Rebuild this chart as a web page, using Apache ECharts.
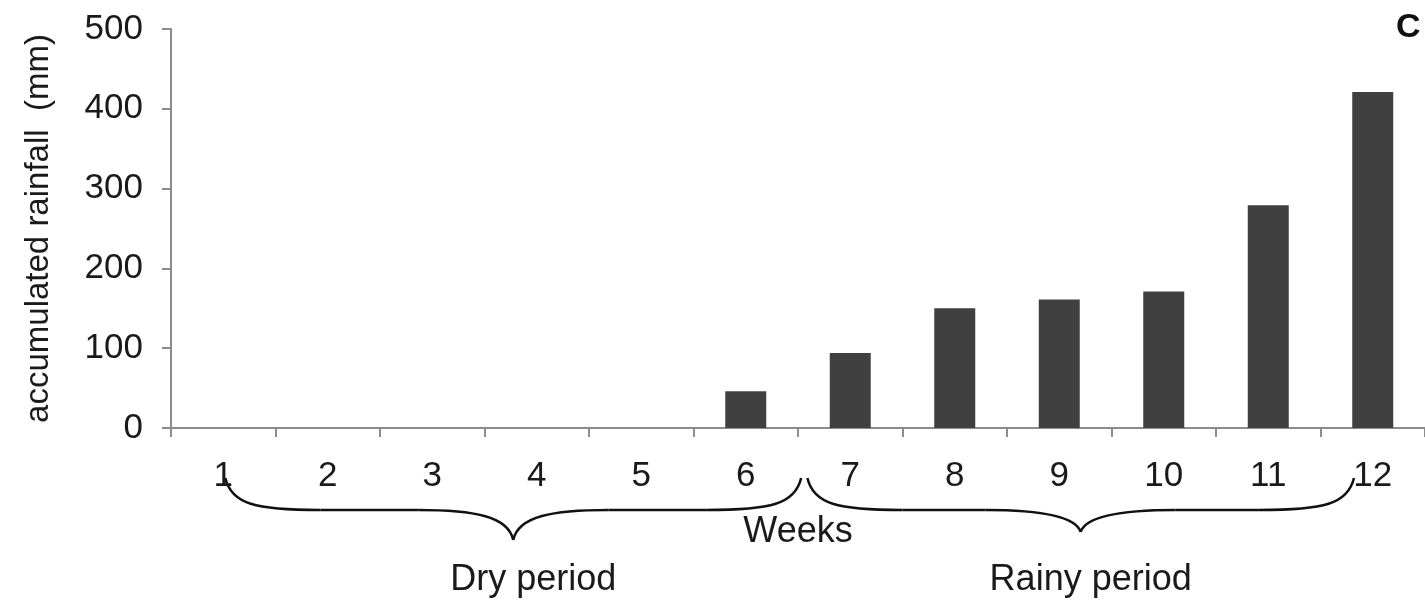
<!DOCTYPE html>
<html>
<head>
<meta charset="utf-8">
<script src="https://cdn.jsdelivr.net/npm/echarts@6/dist/echarts.min.js"></script>
<style>
  html, body { margin: 0; padding: 0; background: #fff; }
  #chart { width: 1425px; height: 606px; }
</style>
</head>
<body>
<div id="chart"></div>
<script>
// Weekly accumulated rainfall
const weeks = ['1', '2', '3', '4', '5', '6', '7', '8', '9', '10', '11', '12'];
const rainfall = [0, 0, 0, 0, 0, 46, 94, 150, 161, 171, 279, 421];
const yTicks = { min: 0, max: 500, interval: 100 };

// Period braces, spans given in category-index units
const periods = [
  { name: 'Dry period', from: 0.02, to: 5.53, depth: 112, shift: 20 },
  { name: 'Rainy period', from: 5.59, to: 10.82, depth: 104, shift: 10 }
];

const FONT = '"Liberation Sans", Arial, sans-serif';
const TEXT = '#1a1a1a';
const AXIS = '#8c8c8c';

const chart = echarts.init(document.getElementById('chart'), null, { renderer: 'canvas' });

chart.setOption({
  backgroundColor: '#fff',
  animation: false,
  grid: { left: 171, top: 29, width: 1260, height: 399, containLabel: false },
  xAxis: {
    type: 'category',
    data: weeks,
    boundaryGap: true,
    name: 'Weeks',
    nameLocation: 'middle',
    nameGap: 86,
    nameTextStyle: { fontFamily: FONT, fontSize: 36, color: TEXT },
    axisLine: { show: true, lineStyle: { color: AXIS, width: 2 } },
    axisTick: { show: true, alignWithLabel: false, length: 9, lineStyle: { color: AXIS, width: 2 } },
    axisLabel: { fontFamily: FONT, fontSize: 35, color: TEXT, margin: 31 },
    splitLine: { show: false }
  },
  yAxis: {
    type: 'value',
    min: yTicks.min,
    max: yTicks.max,
    interval: yTicks.interval,
    name: 'accumulated rainfall  (mm)',
    nameLocation: 'middle',
    nameGap: 116,
    nameRotate: 90,
    nameTextStyle: { fontFamily: FONT, fontSize: 33, color: TEXT },
    axisLine: { show: true, lineStyle: { color: AXIS, width: 2 } },
    axisTick: { show: true, length: 9, lineStyle: { color: AXIS, width: 2 } },
    axisLabel: { fontFamily: FONT, fontSize: 35, color: TEXT, margin: 28 },
    splitLine: { show: false }
  },
  series: [{
    type: 'bar',
    data: rainfall,
    barWidth: 41,
    itemStyle: { color: '#404040' }
  }]
});

// Curly braces and period captions beneath the week labels
function drawBraces() {
  const p0 = chart.convertToPixel({ xAxisIndex: 0 }, 0);
  const p1 = chart.convertToPixel({ xAxisIndex: 0 }, 1);
  const step = p1 - p0;
  const base = chart.convertToPixel({ yAxisIndex: 0 }, 0);
  const xAt = u => p0 + u * step;

  const yEnd = base + 50;
  const yMid = base + 82;
  const stroke = { fill: null, stroke: '#111', lineWidth: 2.5 };

  const curve = (x1, y1, c1x, c1y, c2x, c2y, x2, y2) => ({
    type: 'bezierCurve',
    shape: { x1: x1, y1: y1, cpx1: c1x, cpy1: c1y, cpx2: c2x, cpy2: c2y, x2: x2, y2: y2 },
    style: stroke,
    silent: true
  });
  const line = (x1, y1, x2, y2) => ({
    type: 'line',
    shape: { x1: x1, y1: y1, x2: x2, y2: y2 },
    style: stroke,
    silent: true
  });

  const elements = [];
  periods.forEach(p => {
    const x0 = xAt(p.from);
    const x1 = xAt(p.to);
    const xm = (x0 + x1) / 2;
    const yTip = base + p.depth;
    elements.push(
      curve(x0, yEnd, x0 + 6, yMid - 6, x0 + 30, yMid, x0 + 95, yMid),
      line(x0 + 95, yMid, xm - 95, yMid),
      curve(xm - 95, yMid, xm - 40, yMid, xm - 5, yMid + 6, xm, yTip),
      curve(xm, yTip, xm + 5, yMid + 6, xm + 40, yMid, xm + 95, yMid),
      line(xm + 95, yMid, x1 - 95, yMid),
      curve(x1 - 95, yMid, x1 - 30, yMid, x1 - 6, yMid - 6, x1, yEnd)
    );
    elements.push({
      type: 'text',
      x: xm + p.shift,
      y: base + 152,
      style: {
        text: p.name, fontFamily: FONT, fontSize: 36, fill: TEXT,
        align: 'center', verticalAlign: 'middle'
      },
      silent: true
    });
  });

  elements.push({
    type: 'text',
    x: 1396,
    y: 28,
    style: {
      text: 'C', fontFamily: FONT, fontSize: 34, fontWeight: 'bold', fill: '#111',
      align: 'left', verticalAlign: 'middle'
    },
    silent: true
  });

  chart.setOption({ graphic: { elements: elements } });
}
drawBraces();
</script>
</body>
</html>
